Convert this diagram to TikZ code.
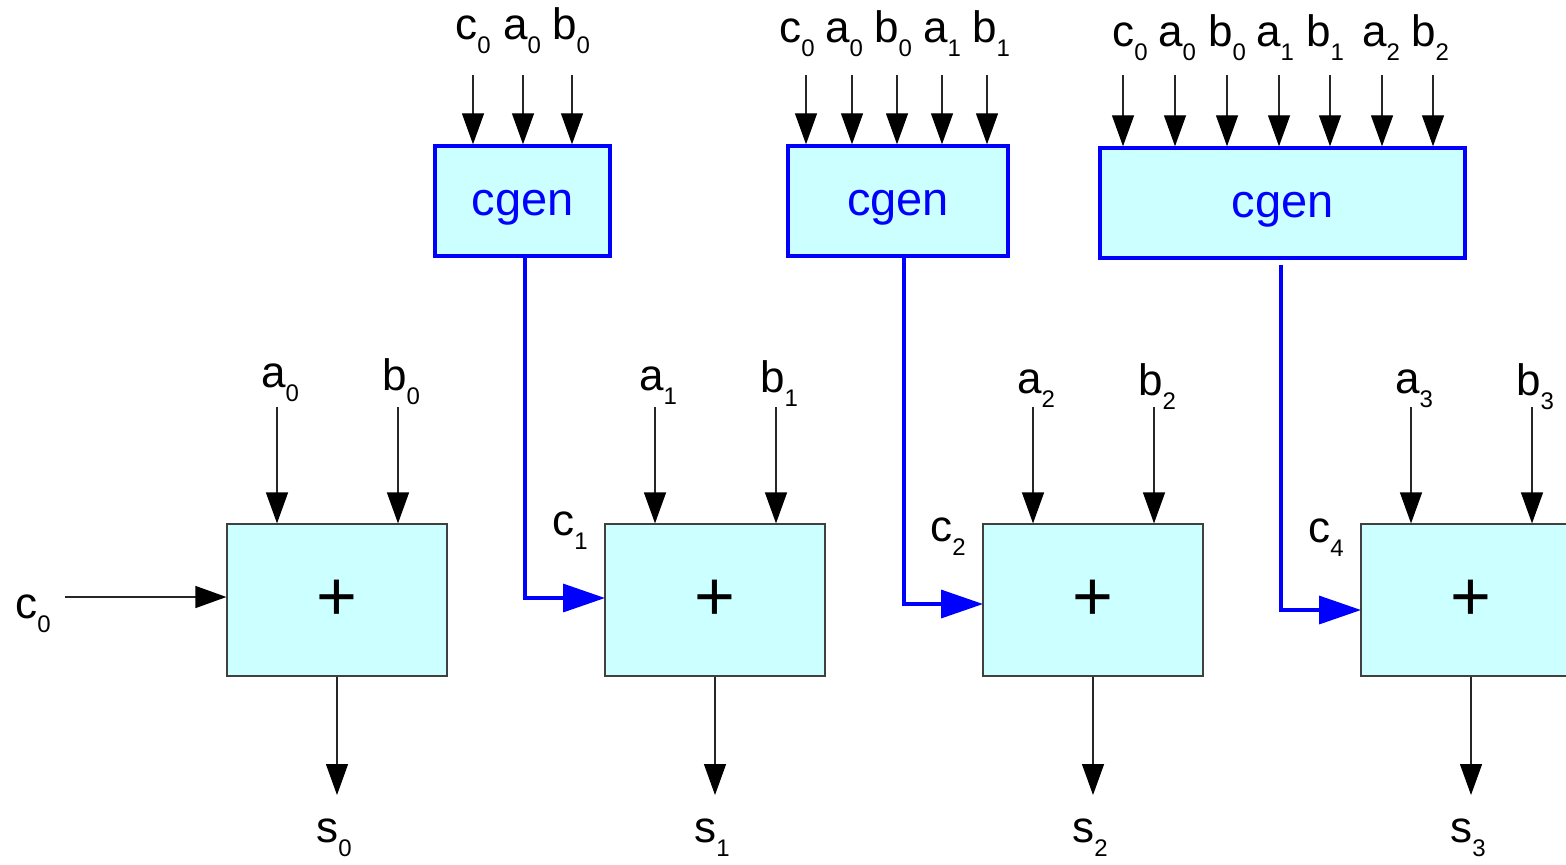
\documentclass[tikz,border=0pt]{standalone}
\usepackage{fontspec}
\setmainfont{Liberation Sans}
\usetikzlibrary{arrows.meta}
\definecolor{boxfill}{HTML}{CCFFFF}
\definecolor{wireblue}{HTML}{0000FF}
% signal name with a lowered index
\newcommand{\sig}[2]{#1\raisebox{-7pt}{\fontsize{12}{12}\selectfont #2}}
\tikzset{
  lbl/.style={font=\fontsize{22}{22}\selectfont, anchor=base, inner sep=0pt},
  adder/.style={draw=black!75, line width=0.6pt, fill=boxfill, minimum width=110pt,
    minimum height=76pt, inner sep=0pt, font=\fontsize{35}{35}\selectfont},
  gen/.style={draw=wireblue, line width=1.7pt, fill=boxfill, minimum height=55pt,
    inner sep=0pt, text=wireblue, text depth=0pt, font=\fontsize{23.5}{23.5}\selectfont},
  wire/.style={black!85, line width=0.65pt, -{Triangle[length=15.5pt,width=11pt,fill=black,color=black]}},
  carry/.style={wireblue, line width=1.7pt, -{Triangle[length=21pt,width=14pt]}}
}
\begin{document}
\begin{tikzpicture}[x=0.5pt,y=-0.5pt]
\useasboundingbox (0,0) rectangle (1566,864);
\clip (0,0) rectangle (1566,864);

% ripple adder cells
\foreach \k in {0,1,2,3}{
  \node[adder] (add\k) at (337+378*\k,600) {\raisebox{-1.5pt}{+}};
}

% carry generators
\node[gen, minimum width=87.5pt]  (g1) at (522.5,201) {\raisebox{-1.5pt}{cgen}};
\node[gen, minimum width=110pt]   (g2) at (898,201)   {\raisebox{-1.5pt}{cgen}};
\node[gen, minimum width=182.5pt] (g3) at (1282.5,203) {\raisebox{-1.5pt}{cgen}};

% operand inputs of the adder cells
\foreach \k/\ya/\yb in {0/387/390, 1/390/392, 2/393/395, 3/393/395}{
  \pgfmathsetmacro{\xa}{277+378*\k}
  \pgfmathsetmacro{\xb}{398+378*\k}
  \node[lbl] (la\k) at (\xa+3,\ya) {\sig{a}{\k}};
  \node[lbl] (lb\k) at (\xb+3,\yb) {\sig{b}{\k}};
  \coordinate (sa\k) at (\xa,407);
  \coordinate (sb\k) at (\xb,407);
  \draw[wire] (sa\k) -- (sa\k |- add\k.north);
  \draw[wire] (sb\k) -- (sb\k |- add\k.north);
  % sum outputs
  \coordinate (so\k) at (337+378*\k,795);
  \node[lbl] (ls\k) at (334+378*\k,842) {\sig{s}{\k}};
  \draw[wire] (add\k.south) -- (so\k);
}

% carry into the first cell
\node[lbl, anchor=base west] (lc0) at (15,618) {\sig{c}{0}};
\coordinate (cin) at (65,597);
\draw[wire] (cin) -- ([yshift=1.5pt]add0.west);

% inputs of the carry generators: arrow x / label x / label
\foreach \x/\lx/\t [count=\i] in {473/473/\sig{c}{0}, 523/522/\sig{a}{0}, 572/571/\sig{b}{0}}{
  \node[lbl] (p1\i) at (\lx,39) {\t};
  \coordinate (q1\i) at (\x,75);
  \draw[wire] (q1\i) -- (q1\i |- g1.north);
}
\foreach \x/\lx/\t [count=\i] in {806/797/\sig{c}{0}, 852/844/\sig{a}{0}, 897/893/\sig{b}{0}, 942/942/\sig{a}{1}, 987/991/\sig{b}{1}}{
  \node[lbl] (p2\i) at (\lx,42) {\t};
  \coordinate (q2\i) at (\x,75);
  \draw[wire] (q2\i) -- (q2\i |- g2.north);
}
\foreach \x/\lx/\t [count=\i] in {1123/1130/\sig{c}{0}, 1175/1177/\sig{a}{0}, 1227/1227/\sig{b}{0}, 1279/1275/\sig{a}{1}, 1330/1325/\sig{b}{1}, 1382/1381/\sig{a}{2}, 1433/1430/\sig{b}{2}}{
  \node[lbl] (p3\i) at (\lx,46) {\t};
  \coordinate (q3\i) at (\x,75);
  \draw[wire] (q3\i) -- (q3\i |- g3.north);
}

% generated carries
\coordinate (t1) at (605,598);
\coordinate (t2) at (983,604);
\coordinate (t3) at (1361,610);
\draw[carry] ([xshift=1.25pt]g1.south) |- (t1);
\draw[carry] ([xshift=3pt]g2.south) |- (t2);
\draw[carry] ([xshift=-0.75pt,yshift=-2.5pt]g3.south) |- (t3);
\node[lbl, anchor=base west] (lc1) at (552,535)  {\sig{c}{1}};
\node[lbl, anchor=base west] (lc2) at (930,541)  {\sig{c}{2}};
\node[lbl, anchor=base west] (lc4) at (1308,542) {\sig{c}{4}};
\end{tikzpicture}
\end{document}
